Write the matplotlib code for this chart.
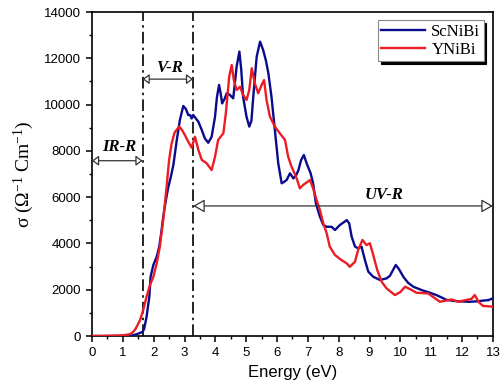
import matplotlib
matplotlib.use("Agg")
import matplotlib.pyplot as plt
import matplotlib.ticker as mticker
from matplotlib.patches import FancyArrowPatch

# ── Data ──────────────────────────────────────────────────────────────────────
E_SC = [0.0, 0.5, 1.0, 1.3, 1.45, 1.55, 1.64, 1.69, 1.77, 1.86, 1.90, 1.99,
        2.10, 2.18, 2.25, 2.31, 2.40, 2.47, 2.56, 2.64, 2.75, 2.85, 2.96,
        3.05, 3.12, 3.18, 3.23, 3.28, 3.34, 3.45, 3.56, 3.66, 3.77, 3.88,
        3.99, 4.05, 4.12, 4.17, 4.22, 4.30, 4.37, 4.47, 4.58, 4.69, 4.78,
        4.84, 4.90, 5.01, 5.10, 5.17, 5.23, 5.34, 5.45, 5.55, 5.64, 5.72,
        5.82, 5.93, 6.04, 6.15, 6.22, 6.31, 6.42, 6.53, 6.62, 6.69, 6.78,
        6.87, 6.96, 7.09, 7.17, 7.26, 7.39, 7.50, 7.61, 7.77, 7.88, 8.04,
        8.15, 8.26, 8.34, 8.42, 8.53, 8.63, 8.74, 8.85, 8.96, 9.12, 9.34,
        9.55, 9.66, 9.76, 9.85, 9.95, 10.10, 10.25, 10.42, 10.70, 10.96,
        11.20, 11.50, 11.85, 12.25, 12.50, 12.68, 12.85, 13.0]
S_SC = [0, 0, 0, 20, 80, 130, 180, 300, 830, 1700, 2560, 3070,
        3430, 3860, 4500, 5150, 5900, 6400, 6900, 7400, 8470, 9330, 9940,
        9800, 9550, 9550, 9400, 9550, 9450, 9260, 8900, 8540, 8350, 8610,
        9480, 10300, 10850, 10500, 10050, 10250, 10490, 10420, 10270, 11640, 12290,
        11500, 10340, 9480, 9050, 9300, 10340, 12070, 12720, 12360, 11900, 11350,
        10340, 8900, 7460, 6600, 6650, 6740, 7030, 6810, 6950, 7150, 7600,
        7820, 7460, 7030, 6600, 5730, 5160, 4800, 4720, 4720, 4580, 4800,
        4900, 5010, 4870, 4290, 3860, 3790, 3860, 3280, 2780, 2560, 2420,
        2490, 2600, 2850, 3070, 2900, 2550, 2300, 2130, 1980, 1870,
        1750, 1560, 1500, 1480, 1500, 1530, 1550, 1630]

E_Y = [0.0, 0.5, 1.0, 1.2, 1.3, 1.4, 1.48, 1.56, 1.66, 1.77, 1.88, 1.99,
       2.10, 2.20, 2.31, 2.42, 2.50, 2.58, 2.68, 2.83, 2.92, 3.01, 3.12,
       3.23, 3.34, 3.45, 3.56, 3.72, 3.88, 3.99, 4.09, 4.26, 4.34, 4.45,
       4.53, 4.60, 4.69, 4.80, 4.90, 5.01, 5.10, 5.18, 5.28, 5.39, 5.50,
       5.58, 5.66, 5.77, 5.93, 6.09, 6.26, 6.36, 6.47, 6.56, 6.64, 6.74,
       6.85, 7.07, 7.17, 7.28, 7.39, 7.50, 7.61, 7.71, 7.88, 8.09, 8.26,
       8.36, 8.53, 8.63, 8.77, 8.90, 9.01, 9.12, 9.25, 9.39, 9.55, 9.82,
       10.00, 10.15, 10.35, 10.52, 10.90, 11.10, 11.28, 11.66, 11.87, 12.14,
       12.30, 12.41, 12.55, 12.68, 13.0]
S_Y = [0, 10, 30, 70, 130, 280, 480, 690, 1120, 1700, 2200, 2560,
       3140, 3860, 5010, 6450, 7600, 8300, 8800, 9050, 8900, 8690, 8400,
       8140, 8610, 8040, 7610, 7460, 7170, 7750, 8470, 8760, 9620, 11210,
       11710, 11060, 10630, 10770, 10420, 10200, 10630, 11570, 10920, 10490, 10850,
       11060, 10200, 9480, 9050, 8760, 8470, 7750, 7320, 7050, 6800, 6380,
       6530, 6740, 6380, 5880, 5450, 4870, 4440, 3860, 3500, 3280, 3140,
       2990, 3210, 3720, 4150, 3930, 4010, 3500, 2850, 2350, 2060, 1770,
       1900, 2130, 2000, 1870, 1840, 1650, 1480, 1580, 1480, 1560,
       1600, 1770, 1450, 1300, 1270]

REGION_EDGES = [1.64, 3.28]
REGION_ARROWS = [(0.0, 1.64, 7575), (1.64, 3.28, 11100), (3.28, 13.0, 5620)]
REGION_LABELS = [("IR-R", 0.88, 8150), ("V-R", 2.5, 11600), ("UV-R", 9.46, 6080)]

BLUE = "#0a0a8c"
RED = "#ec1c24"

# ── Plot ──────────────────────────────────────────────────────────────────────
plt.rcParams["font.family"] = ["Liberation Sans", "DejaVu Sans"]
plt.rcParams["mathtext.fontset"] = "custom"
plt.rcParams["mathtext.rm"] = "Liberation Serif"
plt.rcParams["mathtext.it"] = "Liberation Serif:italic"

fig = plt.figure(figsize=(5.04, 3.89), dpi=100)
ax = fig.add_axes([0.1825, 0.1362, 0.7955, 0.8329])

ax.plot(E_SC, S_SC, color=BLUE, lw=1.7, label="ScNiBi", zorder=3)
ax.plot(E_Y, S_Y, color=RED, lw=1.7, label="YNiBi", zorder=3)

for xe in REGION_EDGES:
    ax.axvline(xe, color="black", lw=1.2, ls=(0, (7, 2.5, 1.5, 2.5)), zorder=2)

heads = [(4, 3), (4, 3), (7, 4)]
for (x0, x1, yv), (hl, hw) in zip(REGION_ARROWS, heads):
    arr = FancyArrowPatch((x0, yv), (x1, yv),
                          arrowstyle=f"<|-|>,head_length={hl},head_width={hw}",
                          mutation_scale=1, shrinkA=0, shrinkB=0,
                          facecolor="white", edgecolor="#333333", lw=0.9,
                          zorder=4)
    ax.add_patch(arr)

for txt, xv, yv in REGION_LABELS:
    ax.text(xv, yv, txt, ha="center", va="center", fontsize=12,
            family="Liberation Serif", fontweight="bold", fontstyle="italic",
            zorder=5)

ax.set_xlim(0, 13)
ax.set_ylim(0, 14000)
ax.xaxis.set_major_locator(mticker.MultipleLocator(1))
ax.xaxis.set_minor_locator(mticker.MultipleLocator(0.5))
ax.yaxis.set_major_locator(mticker.MultipleLocator(2000))
ax.yaxis.set_minor_locator(mticker.MultipleLocator(1000))
ax.tick_params(which="major", direction="out", length=4.5, width=1.1,
               labelsize=9.5, top=False, right=False)
ax.tick_params(which="minor", direction="out", length=2.5, width=1.0,
               top=False, right=False)
for sp in ax.spines.values():
    sp.set_linewidth(1.2)

ax.set_xlabel("Energy (eV)", fontsize=12, labelpad=4)
ax.set_ylabel("σ (Ω$^{-1}$ Cm$^{-1}$)", fontsize=14, labelpad=6,
              family="Liberation Serif")

leg = ax.legend(loc="upper right", bbox_to_anchor=(0.985, 0.985),
                prop={"family": "Liberation Serif", "size": 12},
                frameon=True, fancybox=False, framealpha=1,
                edgecolor="#888888", handlelength=2.6, handletextpad=0.4,
                borderpad=0.2, labelspacing=0.15, borderaxespad=0.2,
                shadow={"color": "black", "alpha": 1})
leg.get_frame().set_linewidth(0.8)

fig.savefig("out.png", dpi=100)
